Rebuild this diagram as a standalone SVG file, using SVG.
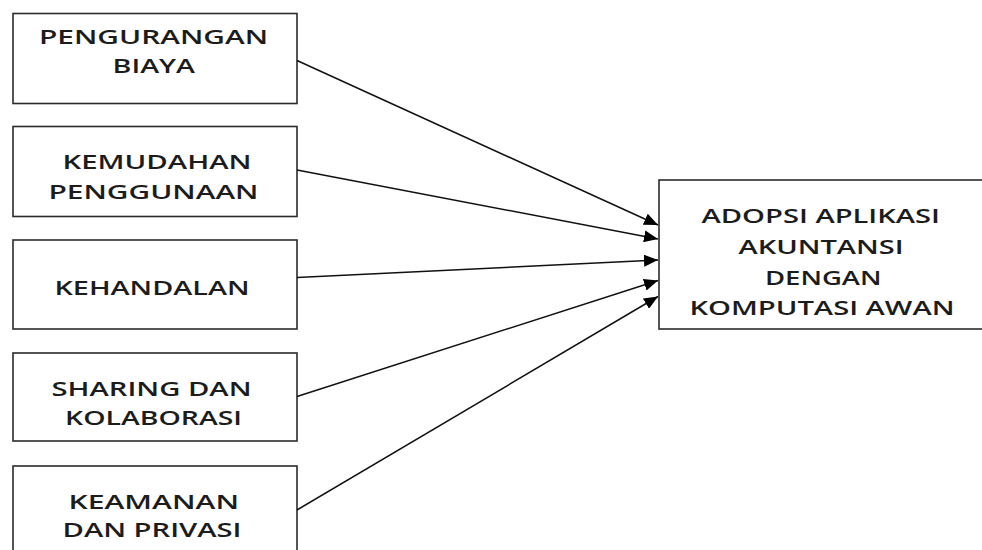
<svg xmlns="http://www.w3.org/2000/svg" width="982" height="550" viewBox="0 0 982 550">
<style>
.box{fill:#fff;stroke:#2b2b2b;stroke-width:1.6}
.lbl{font-family:"Open Sans","Liberation Sans",sans-serif;font-size:20px;font-weight:600;fill:#1c1c1c;text-anchor:start}
.con{stroke:#111;stroke-width:1.5;fill:none;marker-end:url(#ah)}
</style>
<defs>
<marker id="ah" markerUnits="userSpaceOnUse" markerWidth="15" markerHeight="12" refX="14" refY="6" orient="auto">
<path d="M0,0 L14,6 L0,12 Z" fill="#000"/>
</marker>
</defs>
<rect width="982" height="550" fill="#fff"/>
<g id="n1">
<rect class="box" x="13" y="13.5" width="284" height="90"/>
<text class="lbl" x="39" y="43.5" textLength="229" lengthAdjust="spacingAndGlyphs">PENGURANGAN</text>
<text class="lbl" x="112.5" y="72.5" textLength="82.5" lengthAdjust="spacingAndGlyphs">BIAYA</text>
</g>
<g id="n2">
<rect class="box" x="13" y="126.5" width="284" height="90"/>
<text class="lbl" x="62.5" y="168.5" textLength="189" lengthAdjust="spacingAndGlyphs">KEMUDAHAN</text>
<text class="lbl" x="48.5" y="198.5" textLength="210" lengthAdjust="spacingAndGlyphs">PENGGUNAAN</text>
</g>
<g id="n3">
<rect class="box" x="13" y="240" width="284" height="89"/>
<text class="lbl" x="54.5" y="295" textLength="195" lengthAdjust="spacingAndGlyphs">KEHANDALAN</text>
</g>
<g id="n4">
<rect class="box" x="13" y="353" width="284" height="88"/>
<text class="lbl" x="51.5" y="395.5" textLength="200" lengthAdjust="spacingAndGlyphs">SHARING DAN</text>
<text class="lbl" x="65" y="424.5" textLength="177" lengthAdjust="spacingAndGlyphs">KOLABORASI</text>
</g>
<g id="n5">
<rect class="box" x="13" y="466" width="284" height="100"/>
<text class="lbl" x="68.5" y="508.5" textLength="170.5" lengthAdjust="spacingAndGlyphs">KEAMANAN</text>
<text class="lbl" x="62.5" y="536.5" textLength="179" lengthAdjust="spacingAndGlyphs">DAN PRIVASI</text>
</g>
<g id="n6">
<rect class="box" x="659" y="180" width="330" height="149"/>
<text class="lbl" x="701.5" y="222.5" textLength="238.5" lengthAdjust="spacingAndGlyphs">ADOPSI APLIKASI</text>
<text class="lbl" x="738.5" y="253.5" textLength="165" lengthAdjust="spacingAndGlyphs">AKUNTANSI</text>
<text class="lbl" x="765" y="284.5" textLength="116.5" lengthAdjust="spacingAndGlyphs">DENGAN</text>
<text class="lbl" x="689.5" y="315" textLength="265" lengthAdjust="spacingAndGlyphs">KOMPUTASI AWAN</text>
</g>
<g id="connectors">
<line class="con" x1="297" y1="60.5" x2="658" y2="225"/>
<line class="con" x1="297" y1="170" x2="658" y2="239"/>
<line class="con" x1="297" y1="277.5" x2="658" y2="260"/>
<line class="con" x1="297" y1="396.5" x2="658" y2="280.5"/>
<line class="con" x1="297" y1="510" x2="658" y2="296.5"/>
</g>
</svg>
